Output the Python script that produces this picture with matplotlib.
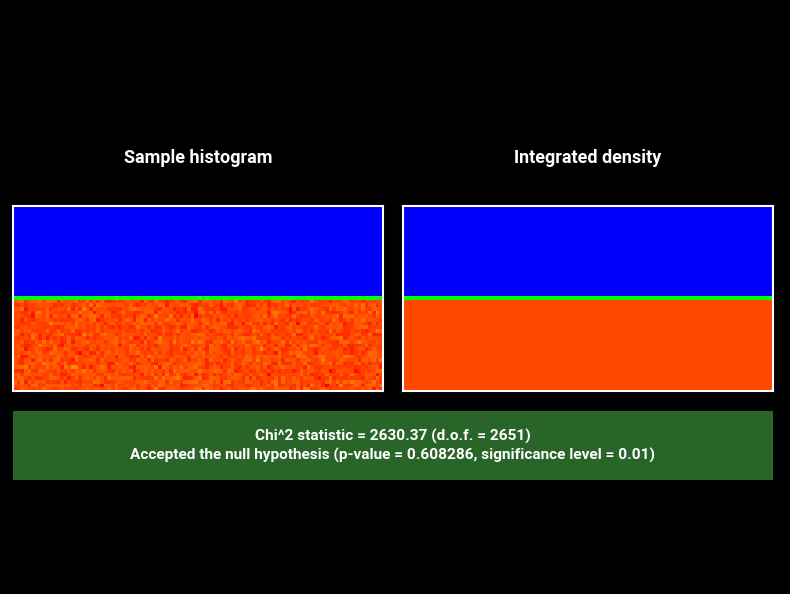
import numpy as np
import matplotlib
matplotlib.use("Agg")
import matplotlib.pyplot as plt
from matplotlib.colors import ListedColormap, hsv_to_rgb
from matplotlib.patches import Rectangle

# ---- data ----
n_cols = 102
n_rows = 51
# integrated density per row (top -> bottom), relative units
density_rows = [0.0] * 25 + [0.54] + [1.0] * 25
samples_per_cell = 2200         # expected sample count for a full-density cell
chi2_stat = 2630.37
dof = 2651
p_value = 0.608286
sig_level = 0.01
titles = ["Sample histogram", "Integrated density"]

# ---- derived arrays ----
density = np.tile(np.array(density_rows)[:, None], (1, n_cols))
expected = density * samples_per_cell
rng = np.random.default_rng(7)
histogram = rng.poisson(expected) / samples_per_cell

# colormap: hue from blue (240 deg) down to red (0 deg)
hues = np.linspace(240, 0, 256) / 360.0
cmap = ListedColormap(hsv_to_rgb(np.stack([hues, np.ones(256), np.ones(256)], axis=1)))
vmax = 1.079

W, H = 790, 594
fig = plt.figure(figsize=(W / 100, H / 100), dpi=100, facecolor="black")
plt.rcParams["font.family"] = ["Roboto", "DejaVu Sans"]

def px_axes(x0, x1, y0, y1):
    return fig.add_axes([x0 / W, 1 - y1 / H, (x1 - x0) / W, (y1 - y0) / H])

panels = [(13, 383), (403, 773)]
for (x0, x1), data, title in zip(panels, [histogram, density], titles):
    ax = px_axes(x0, x1, 206, 391)
    ax.imshow(data, cmap=cmap, vmin=0, vmax=vmax, aspect="auto",
              interpolation="nearest")
    ax.set_xticks([])
    ax.set_yticks([])
    for s in ax.spines.values():
        s.set_color("white")
        s.set_linewidth(1.5)
    fig.text((x0 + x1) / 2 / W, 1 - 158 / H, title, color="white",
             fontsize=13, fontweight="bold", ha="center", va="center")

fig.patches.append(Rectangle((13 / W, 1 - 480 / H), 760 / W, 69 / H,
                             transform=fig.transFigure, facecolor="#296529",
                             edgecolor="none"))
line1 = f"Chi^2 statistic = {chi2_stat:.2f} (d.o.f. = {dof})"
line2 = (f"Accepted the null hypothesis (p-value = {p_value:g}, "
         f"significance level = {sig_level:g})")
fig.text(393 / W, 1 - 436 / H, line1, color="white", fontsize=11.1,
         fontweight="bold", ha="center", va="center")
fig.text(393 / W, 1 - 455 / H, line2, color="white", fontsize=11.1,
         fontweight="bold", ha="center", va="center")

fig.savefig("out.png", dpi=100, facecolor="black")
